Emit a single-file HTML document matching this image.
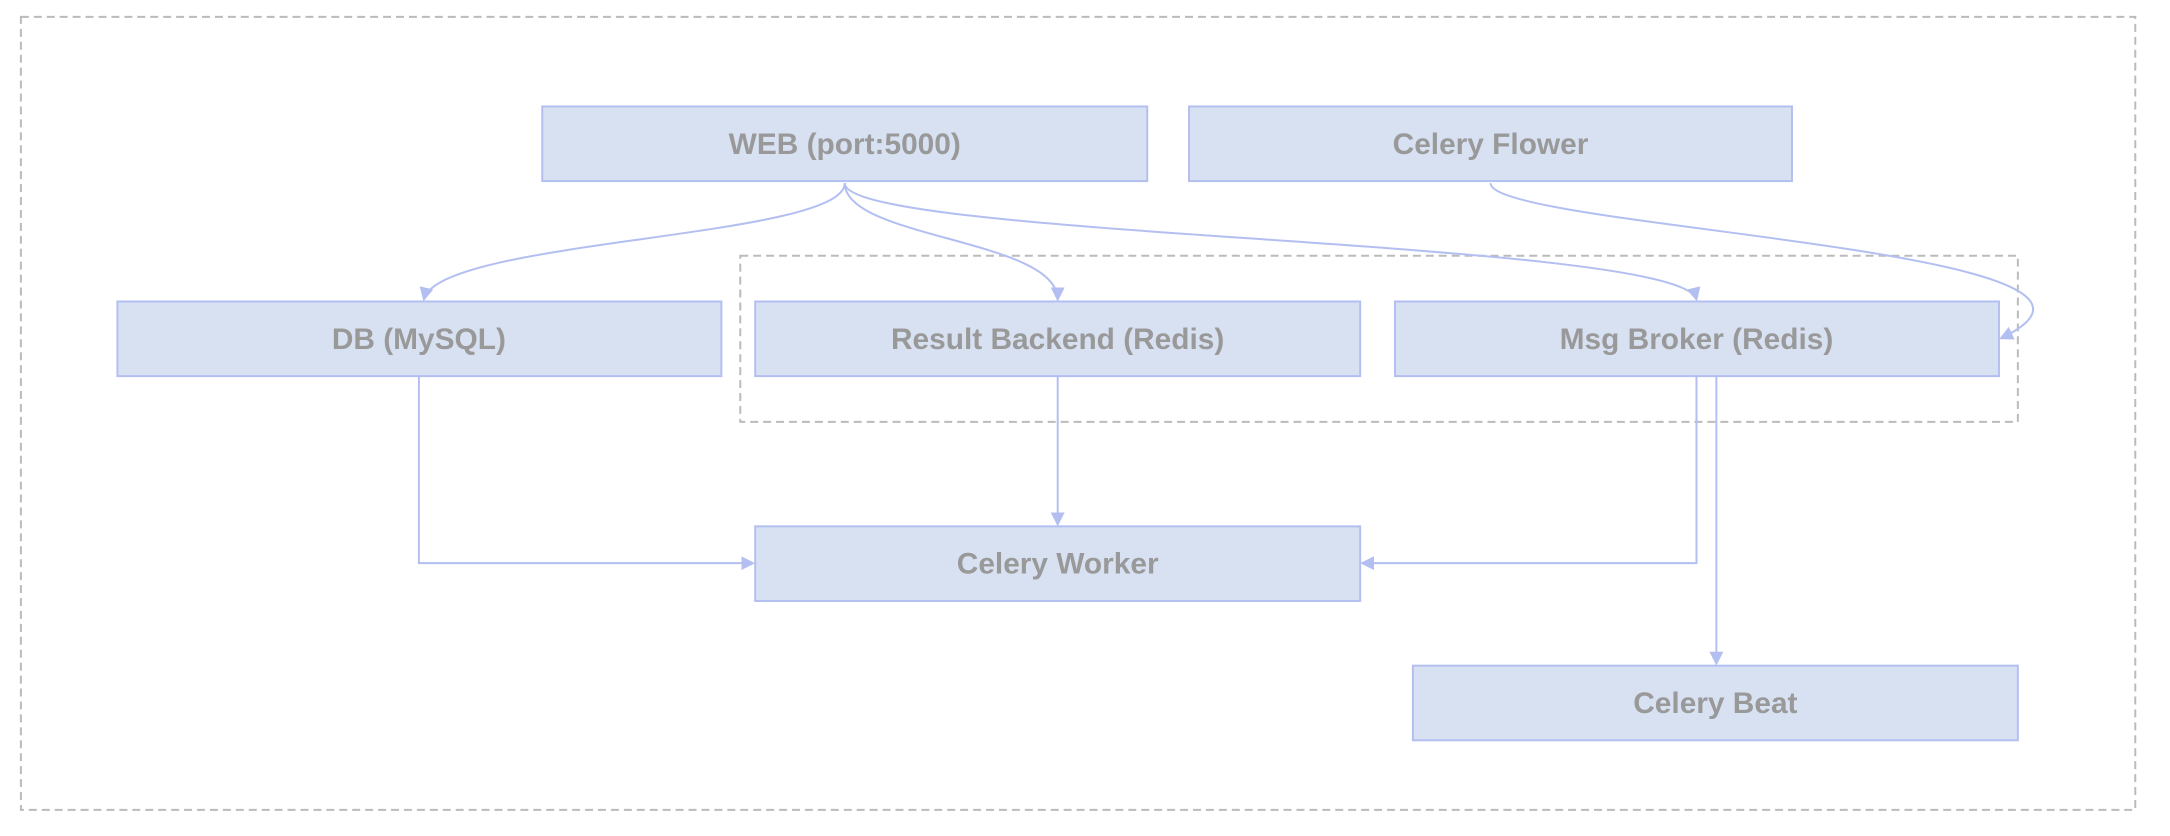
<!DOCTYPE html>
<html><head><meta charset="utf-8"><style>
html,body{margin:0;padding:0;background:#fff;}
svg{display:block;}
text{font-family:"Liberation Sans",sans-serif;font-weight:bold;font-size:30px;fill:#999;}
</style></head><body>
<svg width="2170" height="836" viewBox="0 0 2170 836" xmlns="http://www.w3.org/2000/svg">
<defs>
<marker id="a" markerWidth="14" markerHeight="14" refX="12" refY="7" orient="auto" markerUnits="userSpaceOnUse">
<path d="M0,0 L14,7 L0,14 z" fill="#b3bff0"/>
</marker>
</defs>
<g transform="scale(0.995)">
<rect x="21" y="17" width="2125" height="797" fill="none" stroke="#bbb" stroke-width="2" stroke-dasharray="8,5"/>
<rect x="744" y="257" width="1284" height="167" fill="none" stroke="#bbb" stroke-width="2" stroke-dasharray="8,5"/>
<g fill="#d8e1f2" stroke="#b3bff0" stroke-width="2">
<rect x="545" y="107" width="608" height="75"/>
<rect x="1195" y="107" width="606" height="75"/>
<rect x="118" y="303" width="607" height="75"/>
<rect x="759" y="303" width="608" height="75"/>
<rect x="1402" y="303" width="607" height="75"/>
<rect x="759" y="529" width="608" height="75"/>
<rect x="1420" y="669" width="608" height="75"/>
</g>
<g fill="none" stroke="#b3bff0" stroke-width="2" marker-end="url(#a)">
<path d="M849,184 C849,240 440,240 426,301"/>
<path d="M849,184 C849,240 1063,240 1063,301"/>
<path d="M849,184 C849,240 1690,240 1705,301"/>
<path d="M1498,184 C1498,230 2200,250 2011,340"/>
<path d="M421,378 L421,566 L757,566"/>
<path d="M1063,378 L1063,527"/>
<path d="M1705,378 L1705,566 L1369,566"/>
<path d="M1725,378 L1725,667"/>
</g>
<g text-anchor="middle" dominant-baseline="central">
<text x="849" y="145">WEB (port:5000)</text>
<text x="1498" y="145">Celery Flower</text>
<text x="421" y="341">DB (MySQL)</text>
<text x="1063" y="341">Result Backend (Redis)</text>
<text x="1705" y="341">Msg Broker (Redis)</text>
<text x="1063" y="567">Celery Worker</text>
<text x="1724" y="707">Celery Beat</text>
</g>
</g>
</svg>
</body></html>
